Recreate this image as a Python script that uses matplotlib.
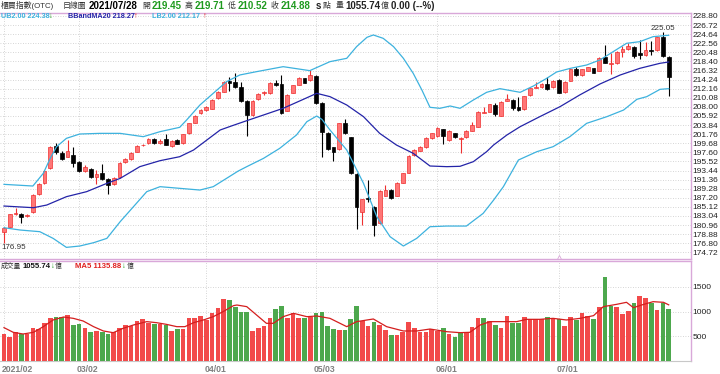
import numpy as np
import matplotlib.pyplot as plt

plt.rcParams['font.family'] = ['Liberation Sans', 'Noto Sans CJK TC', 'DejaVu Sans']

# 日K資料 (櫃買指數, 2021/02/01 ~ 2021/07/28)
opens = [179.36, 180.58, 183.5, 183.48, 183.1, 184.01, 188.06, 190.50, 193.93, 199.04,
         197.52, 196.60, 196.98, 195.38, 193.40, 193.70, 191.87, 192.79, 191.41, 190.35,
         191.87, 195.38, 195.99, 197.75, 199.2, 199.66, 200.57, 199.8, 200.57, 199.04,
         200.42, 199.66, 201.94, 204.39, 206.52, 207.28, 207.59, 209.96, 211.48, 213.92,
         213.77, 212.63, 209.42, 206.14, 209.73, 211.1, 211.10, 213.54, 213.24, 207.13,
         211.25, 213.01, 214.53, 214.15, 215.07, 208.96, 202.10, 198.74, 198.28, 204.23,
         201.03, 192.64, 184.01, 187.15, 185.16, 181.35, 187.60, 188.97, 187.60, 190.65,
         192.94, 196.98, 197.98, 198.89, 200.80, 201.33, 202.86, 200.42, 201.94, 200.75,
         201.03, 202.55, 203.47, 206.6, 206.90, 208.43, 205.91, 209.42, 209.57, 207.90,
         207.44, 210.71, 212.4, 212.47, 213.23, 212.47, 214.15, 211.33, 214.00, 216.59,
         215.29, 216.29, 216.82, 216.29, 219.49, 217.9, 217.97, 220.64, 221.17, 221.78,
         220.25, 219.87, 221.02, 221.02, 224.07, 219.45]
highs = [180.6, 183.6, 184.9, 183.8, 183.6, 188.1, 190.5, 193.6, 199.1, 199.66,
         197.8, 200.42, 198.74, 195.6, 194.70, 194.0, 193.55, 194.85, 191.64, 191.9,
         195.4, 196.3, 197.7, 199.2, 199.6, 200.9, 200.8, 200.6, 201.79, 200.4,
         200.6, 201.9, 204.4, 206.1, 207.5, 208.2, 209.7, 211.6, 213.9, 214.91,
         215.68, 213.77, 209.6, 209.6, 211.1, 211.7, 213.7, 214.2, 215.22, 210.9,
         213.1, 214.8, 214.7, 216.44, 215.3, 209.1, 202.3, 198.9, 204.4, 205.15,
         201.2, 192.8, 187.0, 191.26, 185.3, 189.0, 190.12, 189.1, 190.8, 192.9,
         196.9, 198.3, 199.0, 201.0, 202.1, 203.3, 203.0, 202.7, 202.1, 201.1,
         202.7, 204.61, 207.1, 208.05, 208.7, 208.81, 209.3, 210.94, 209.7, 210.18,
         210.6, 212.4, 213.77, 213.4, 214.76, 214.2, 214.3, 213.9, 216.7, 217.20,
         216.7, 217.2, 217.0, 219.3, 222.16, 220.25, 220.8, 221.93, 222.54, 221.9,
         223.30, 222.92, 223.15, 224.07, 225.05, 219.71]
lows = [176.95, 180.4, 183.2, 181.5, 182.9, 183.8, 187.9, 190.3, 193.8, 197.21,
        195.8, 196.45, 194.32, 193.1, 193.17, 191.7, 190.35, 191.26, 188.06, 190.2,
        191.7, 195.2, 195.8, 197.6, 199.0, 199.5, 199.5, 199.6, 199.27, 198.9,
        199.4, 199.5, 201.8, 204.2, 206.4, 207.1, 207.4, 209.8, 211.3, 211.71,
        212.3, 209.2, 201.33, 206.0, 209.6, 210.8, 210.9, 212.8, 206.37, 207.0,
        211.1, 212.9, 213.4, 214.0, 208.6, 196.60, 198.2, 195.69, 198.1, 201.8,
        192.6, 179.97, 180.96, 186.30, 178.45, 181.2, 187.5, 186.9, 187.5, 190.5,
        192.8, 196.8, 197.8, 198.7, 200.6, 201.2, 199.50, 200.3, 200.9, 197.52,
        200.9, 202.4, 203.3, 206.52, 206.8, 205.91, 205.8, 209.3, 207.28, 207.1,
        207.3, 210.6, 212.24, 212.3, 211.86, 212.3, 211.1, 211.2, 213.9, 215.1,
        215.1, 216.1, 215.7, 216.1, 218.0, 215.52, 217.8, 219.49, 221.0, 219.11,
        218.88, 219.7, 219.87, 220.9, 219.5, 210.52]
closes = [180.35, 183.41, 183.8, 182.72, 183.3, 187.83, 190.35, 193.40, 198.89, 197.75,
          195.99, 197.82, 195.08, 193.32, 194.16, 191.87, 192.64, 191.41, 190.19, 191.64,
          195.23, 196.15, 197.52, 199.04, 199.35, 200.72, 199.66, 200.3, 199.35, 200.27,
          199.50, 201.71, 204.23, 205.91, 207.28, 208.05, 209.57, 211.40, 213.77, 213.39,
          212.47, 209.42, 206.14, 209.42, 210.95, 211.3, 213.54, 213.01, 206.52, 210.72,
          212.93, 214.61, 213.54, 215.22, 208.81, 202.33, 198.36, 197.59, 204.23, 201.94,
          192.79, 185.16, 186.84, 187.0, 180.96, 188.82, 188.9, 187.07, 190.65, 192.79,
          196.76, 198.13, 198.74, 200.80, 201.94, 203.09, 201.33, 202.55, 201.03, 200.85,
          202.55, 203.85, 206.90, 206.8, 208.58, 206.37, 209.19, 209.80, 207.67, 207.28,
          210.49, 212.24, 212.55, 213.23, 212.01, 214.00, 211.25, 213.77, 216.59, 215.29,
          216.59, 217.05, 215.83, 219.11, 218.12, 218.05, 220.64, 221.17, 221.93, 219.64,
          219.87, 221.02, 220.87, 223.91, 219.64, 214.88]
volumes = [543, 489, 577, 536, 550, 658, 644, 760, 875, 889,
           895, 929, 726, 746, 672, 584, 604, 577, 543, 577,
           672, 726, 712, 807, 855, 773, 753, 739, 726, 597,
           651, 644, 875, 875, 909, 828, 963, 1065, 1254, 1227,
           1099, 997, 997, 604, 672, 712, 861, 1044, 1112, 875,
           963, 875, 861, 882, 963, 997, 712, 644, 624, 624,
           848, 1112, 807, 712, 780, 726, 624, 523, 523, 590,
           780, 672, 590, 590, 644, 610, 658, 543, 490, 570,
           570, 678, 861, 861, 814, 726, 672, 909, 773, 773,
           882, 848, 841, 841, 882, 861, 841, 712, 882, 821,
           977, 916, 848, 1099, 1695, 1119, 1085, 943, 1017, 1166,
           1309, 1268, 1180, 1031, 1180, 1055.74]

# 布林通道 (讀圖取樣)
ub_x = [0, 5, 6.8, 8, 9.1, 10.8, 13.1, 16.6, 20.1, 24.1, 27, 30.4, 31.6, 33.9, 36.2, 38.5,
        40.8, 43.7, 48.3, 52.9, 56.4, 59.3, 61, 62.8, 63.9, 65.6, 67.4, 69.1, 70.8, 72.3,
        73.7, 75.4, 77.2, 78.9, 81.2, 83.5, 85.8, 89.3, 91.6, 93.9, 95.6, 98, 100.8,
        103.1, 105.4, 107.7, 110, 112.3, 115]
ub_y = [190.27, 189.89, 192.79, 196.22, 198.89, 200.80, 201.79, 201.94, 201.94, 201.18,
        202.33, 203.32, 205.0, 208.43, 211.10, 213.77, 215.30, 216.06, 217.20, 216.29,
        218.35, 219.11, 221.78, 223.92, 224.45, 223.69, 221.78, 219.11, 215.68, 211.86,
        207.90, 207.67, 208.20, 207.67, 209.57, 211.33, 212.17, 211.33, 212.78, 214.53,
        215.98, 216.82, 217.58, 218.73, 220.64, 222.54, 222.92, 224.07, 224.38]
mid_x = [0, 5.1, 7.4, 10.8, 14.3, 17.8, 20.1, 23.5, 27, 30.4, 32.8, 35.1, 37.4, 39.5, 42,
         44.9, 48.3, 51.8, 54.1, 56.4, 59.3, 62.2, 65.0, 67.9, 70.8, 73.7, 76.6, 78.9,
         81.2, 83.5, 84.7, 87, 89.3, 92.7, 96.2, 99.6, 103.1, 106.6, 110, 113.5, 115]
mid_y = [185.31, 184.93, 185.54, 187.45, 188.60, 190.50, 191.64, 194.32, 195.69, 196.60,
         198.13, 200.42, 202.71, 203.70, 204.84, 206.14, 207.67, 209.73, 211.10, 210.34,
         208.43, 205.76, 201.94, 199.27, 197.37, 194.47, 194.32, 194.40, 195.46, 197.75,
         199.27, 201.56, 203.47, 205.76, 208.05, 210.72, 213.23, 215.29, 216.82, 217.97,
         218.27]
lb_x = [0, 2.8, 6.2, 8.5, 10.8, 13.1, 15.5, 17.8, 20.1, 22.4, 24.7, 27, 30.4, 33.9, 36.2,
        38.5, 40.5, 42, 44.9, 47.7, 50.6, 52.4, 54.1, 55, 56.4, 59.3, 62.2, 64.5, 66.8,
        69.1, 71.4, 73.7, 76.6, 80, 82.9, 84.7, 86.4, 89, 92.2, 95, 97.9, 100.8, 104.3,
        107.2, 109.5, 111.2, 113.5, 115]
lb_y = [180.35, 179.82, 179.44, 177.91, 175.85, 176.16, 176.92, 177.91, 181.73, 185.16,
        188.60, 189.74, 189.36, 188.97, 189.74, 191.64, 193.30, 194.32, 196.22, 198.51,
        201.56, 204.61, 205.91, 205.15, 202.71, 198.13, 190.50, 182.87, 178.29, 176.16,
        177.91, 180.58, 180.73, 180.73, 183.63, 186.66, 189.74, 195.84, 197.75, 198.89,
        201.18, 204.23, 205.76, 207.28, 209.73, 210.34, 212.01, 212.17]

# 成交量 MA5 (讀圖取樣)
ma5_x = [0, 1.6, 3.3, 5.1, 6.8, 8.5, 10.3, 12, 13.7, 15.5, 17.2, 18.9, 20.6, 22.4, 24.7,
         26.4, 28.1, 29.9, 31.3, 32.8, 34.5, 36.2, 37.9, 39.7, 40.3, 42, 43.7, 45.4, 46.6,
         48.3, 50.1, 52.4, 54.1, 56.4, 59.3, 61, 63.9, 66.2, 69.1, 71.4, 73.7, 76.6, 78.9,
         80.6, 82.4, 84.1, 86.4, 88.7, 90.4, 92.7, 95.0, 97.3, 99.7, 102, 103.7, 106,
         107.7, 108.9, 110.3, 112.3, 114.1, 115]
ma5_y = [672, 577, 543, 577, 692, 828, 888, 861, 807, 692, 604, 570, 658, 726, 794,
         773, 739, 692, 692, 773, 828, 895, 997, 1119, 1132, 1099, 929, 760, 760,
         895, 963, 895, 909, 861, 692, 794, 848, 692, 604, 604, 644, 590, 570,
         577, 726, 794, 794, 794, 841, 841, 861, 828, 861, 916, 1099, 1146,
         1187, 1078, 1132, 1200, 1187, 1135.88]

month_idx = [0, 13, 35, 54, 75, 96]
month_labels = ['2021/02', '03/02', '04/01', '05/03', '06/01', '07/01']

ub_last, mid_last, lb_last = 224.38, 218.27, 212.17

o = np.array(opens)
h = np.array(highs)
l = np.array(lows)
c = np.array(closes)
v = np.array(volumes)
idx = np.arange(len(c))
up = c >= o
vol_up = np.r_[True, c[1:] >= c[:-1]]

RED_FILL = '#FF7676'
RED_EDGE = '#EE3030'
BAND = '#3DB2DE'
MID = '#2424A8'
GREEN_TXT = '#1E9A1E'
FRAME = '#D9A8D9'
GRID = '#C8C8C8'
TXT = '#333333'
CJK = 5.7

fig = plt.figure(figsize=(7.2, 3.74), dpi=100)
ax = fig.add_axes([0, 1 - 259 / 374, 691 / 720, (259 - 12.7) / 374])
ax2 = fig.add_axes([0, 1 - 360.7 / 374, 691 / 720, 100 / 374])

xlim = (-0.69, 118.86)

# ---- 主圖 ----
ax.vlines(idx, l, h, colors=np.where(up, RED_EDGE, 'black'), lw=0.8, zorder=3)
ax.bar(idx, np.maximum(np.abs(c - o), 0.12), bottom=np.minimum(o, c), width=0.66,
       color=np.where(up, RED_FILL, 'black'), edgecolor=np.where(up, RED_EDGE, 'black'),
       linewidth=0.5, zorder=4)
ax.plot(ub_x, ub_y, color=BAND, lw=0.9, zorder=5)
ax.plot(lb_x, lb_y, color=BAND, lw=0.9, zorder=5)
ax.plot(mid_x, mid_y, color=MID, lw=0.9, zorder=5)

yt = [228.80 - 2.08 * k for k in range(27)]
ax.set_ylim(173.19, 229.55)
ax.set_xlim(*xlim)
ax.set_yticks(yt)
ax.set_yticklabels([f'{t:.2f}' for t in yt])
ax.yaxis.tick_right()
ax.tick_params(axis='y', length=0, pad=0.8, labelsize=6, labelcolor='#222222')
ax.set_xticks([])
ax.grid(axis='y', linestyle=(0, (1, 2)), color=GRID, lw=0.6)
for m in month_idx:
    ax.axvline(m, linestyle=(0, (1, 2)), color=GRID, lw=0.6, zorder=1)
ax.spines['left'].set_visible(False)
for s in ['top', 'right', 'bottom']:
    ax.spines[s].set_color(FRAME)
    ax.spines[s].set_linewidth(1.0)

hi = int(np.argmax(h))
lo = int(np.argmin(l))
ax.annotate(f'{h[hi]:.2f}', xy=(hi, h[hi]), xytext=(0, 0.5), textcoords='offset points',
            ha='center', va='bottom', fontsize=5.8, color=TXT)
ax.annotate(f'{l[lo]:.2f}', xy=(lo, l[lo]), xytext=(-1.5, -1), textcoords='offset points',
            ha='left', va='top', fontsize=5.8, color=TXT)
ax.plot([96], [173.6], marker='^', ms=3, mfc='white', mec=FRAME, mew=0.6, clip_on=False)

# ---- 成交量 ----
ax2.bar(idx, v, width=0.8, color=np.where(vol_up, '#F24A4A', '#4DA84D'), zorder=3)
ax2.plot(ma5_x, ma5_y, color='#D41E1E', lw=0.9, zorder=4)
ax2.set_xlim(*xlim)
ax2.set_ylim(0, 2033)
ax2.set_yticks([500, 1000, 1500])
ax2.yaxis.tick_right()
ax2.tick_params(axis='y', length=0, pad=1.2, labelsize=6, labelcolor='#222222')
ax2.set_xticks([])
ax2.grid(axis='y', linestyle=(0, (1, 2)), color=GRID, lw=0.6)
for m, lab in zip(month_idx, month_labels):
    ax2.axvline(m, linestyle=(0, (1, 2)), color=GRID, lw=0.6, zorder=1)
    ax2.text(m - 0.35, -0.083, lab, transform=ax2.get_xaxis_transform(), ha='left',
             va='center', fontsize=6.2, color='#808080', fontweight='bold')
ax2.spines['left'].set_visible(False)
for s in ['top', 'right']:
    ax2.spines[s].set_color(FRAME)
    ax2.spines[s].set_linewidth(1.0)
ax2.spines['bottom'].set_color('#C8C8C8')


def put(xp, yp, s, color=TXT, size=7, weight='normal'):
    fig.text(xp / 720, 1 - yp / 374, s, ha='left', va='center', color=color,
             fontsize=size, fontweight=weight)


# 標題列
put(1, 6, '櫃買指數(OTC)', size=CJK)
put(63, 6, '日線圖', size=CJK)
put(89, 6, '2021/07/28', color='black', weight='bold')
put(142, 6, '開', size=CJK)
put(152, 6, f'{o[-1]:.2f}', color=GREEN_TXT, weight='bold')
put(185, 6, '高', size=CJK)
put(195, 6, f'{h[-1]:.2f}', color=GREEN_TXT, weight='bold')
put(228, 6, '低', size=CJK)
put(238, 6, f'{l[-1]:.2f}', color=GREEN_TXT, weight='bold')
put(271, 6, '收', size=CJK)
put(281, 6, f'{c[-1]:.2f}', color=GREEN_TXT, weight='bold')
put(316, 6, 's', color='#222222', weight='bold')
put(323, 6, '點', size=CJK)
put(336, 6, '量', size=CJK)
put(345, 6, f'{v[-1]:.2f}', color='#222222', weight='bold')
put(381, 6, '億', size=CJK)
put(391, 6, '0.00 (--%)', color='#222222', weight='bold')

# 布林圖例
put(1, 16.5, f'UB2.00 {ub_last:.2f}', color=BAND, size=5.2, weight='bold')
put(49, 16.5, '↓', color=GREEN_TXT, size=5.6, weight='bold')
put(68, 16.5, f'BBandMA20 {mid_last:.2f}', color=MID, size=5.2, weight='bold')
put(134, 16.5, '↑', color='#E02020', size=5.6, weight='bold')
put(152, 16.5, f'LB2.00 {lb_last:.2f}', color=BAND, size=5.2, weight='bold')
put(203, 16.5, '↑', color='#E02020', size=5.6, weight='bold')

# 成交量圖例
put(0.5, 266, '成交量', size=4.9)
put(22.5, 266, f'{v[-1]:.2f}', color='#111111', size=5.6, weight='bold')
put(50.5, 266, '↓', color=GREEN_TXT, size=5.6, weight='bold')
put(54.5, 266, '億', size=5.0)
put(75, 266, f'MA5 {ma5_y[-1]:.2f}', color='#E02020', size=5.6, weight='bold')
put(122, 266, '↓', color=GREEN_TXT, size=5.6, weight='bold')
put(127, 266, '億', size=5.0)

fig.savefig('out.png', dpi=100)
